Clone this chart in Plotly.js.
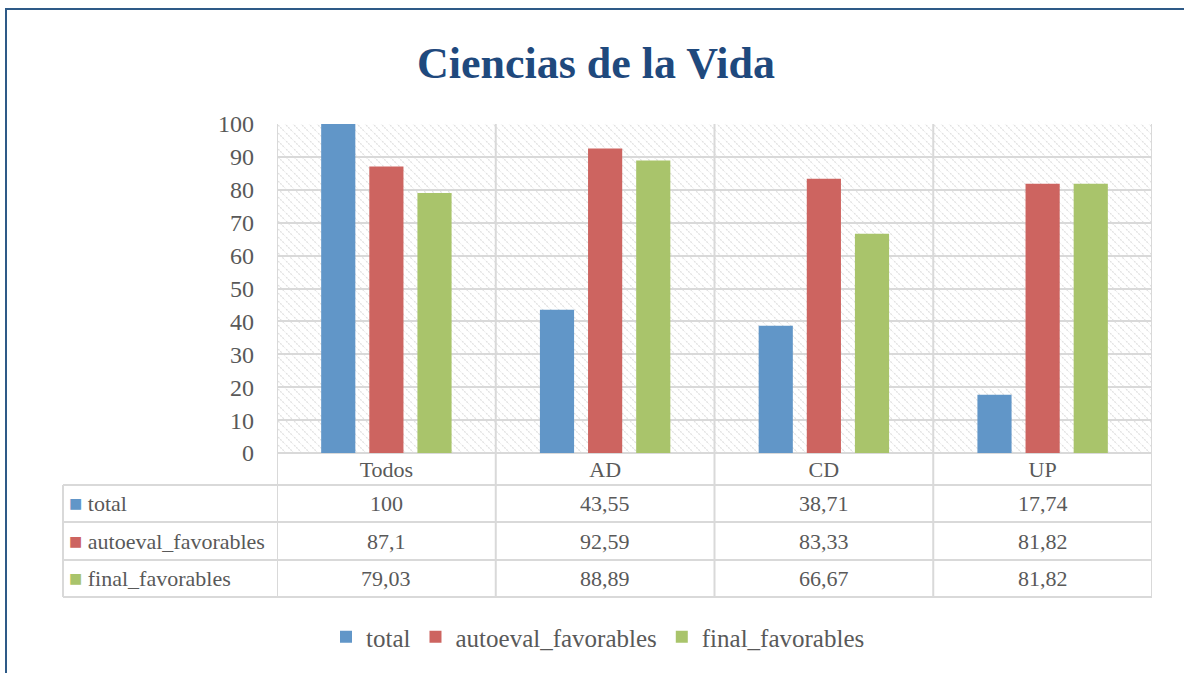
<!DOCTYPE html>
<html>
<head>
<meta charset="utf-8">
<script src="https://cdn.plot.ly/plotly-3.0.1.min.js"></script>
<style>
  body { margin: 0; background: #fff; }
  #plot { width: 1184px; height: 673px; }
</style>
</head>
<body>
<div id="plot"></div>
<script>
// chart data
let categories = ['Todos', 'AD', 'CD', 'UP'];
let seriesNames = ['total', 'autoeval_favorables', 'final_favorables'];
let total = [100, 43.55, 38.71, 17.74];
let autoeval = [87.1, 92.59, 83.33, 81.82];
let finalFav = [79.03, 88.89, 66.67, 81.82];
let yTicks = [0, 10, 20, 30, 40, 50, 60, 70, 80, 90, 100];

let colors = ['#6196c8', '#cd6460', '#a9c46b'];
let values = [total, autoeval, finalFav];
let textColor = '#595959';
let lineColor = '#d9d9d9';
let font = 'Liberation Serif, Times New Roman, serif';

// plot area in pixels
let L = 277, T = 124, W = 875, H = 329;
let px = p => (p - L) / W;
let py = p => (T + H - p) / H;

let data = seriesNames.map((name, i) => ({
  x: categories,
  y: values[i],
  name: name,
  type: 'bar',
  marker: {color: colors[i]},
  hoverinfo: 'x+y+name'
}));

// hatch pattern behind the bars
let svg = '<svg xmlns="http://www.w3.org/2000/svg" width="' + W + '" height="' + H + '">' +
  '<defs><pattern id="h" width="8" height="8" patternUnits="userSpaceOnUse">' +
  '<path d="M-1,-1 L9,9 M-2,6 L2,10 M6,-2 L10,2" stroke="#e0e0e0" stroke-width="1.2" stroke-dasharray="2,1"/>' +
  '</pattern></defs><rect width="100%" height="100%" fill="url(#h)"/></svg>';

let shapes = [];
// outer chart border
shapes.push({type: 'rect', xref: 'paper', yref: 'paper',
  x0: px(6), x1: px(1200), y0: py(690), y1: py(9),
  line: {color: '#2e5a87', width: 2}});
// category dividers (plot + table)
for (let i = 0; i <= categories.length; i++) {
  shapes.push({type: 'line', xref: 'x', yref: 'paper', x0: i - 0.5, x1: i - 0.5,
    y0: py(597), y1: 1, line: {color: lineColor, width: 2}});
}
// table rows
let rowLines = [485, 522, 560, 597];
rowLines.forEach(r => {
  shapes.push({type: 'line', xref: 'paper', yref: 'paper', x0: px(63), x1: 1,
    y0: py(r), y1: py(r), line: {color: lineColor, width: 2}});
});
shapes.push({type: 'line', xref: 'paper', yref: 'paper', x0: px(63), x1: px(63),
  y0: py(485), y1: py(597), line: {color: lineColor, width: 2}});

let annotations = [];
let rowCenters = [503.5, 541, 578.5];
seriesNames.forEach((name, s) => {
  annotations.push({xref: 'paper', yref: 'paper', x: px(67), y: py(rowCenters[s]),
    xanchor: 'left', yanchor: 'middle', showarrow: false,
    text: '<span style="color:' + colors[s] + '">■</span> ' + name,
    font: {family: font, size: 22, color: textColor}});
  categories.forEach((c, j) => {
    annotations.push({xref: 'x', yref: 'paper', x: c, y: py(rowCenters[s]),
      xanchor: 'center', yanchor: 'middle', showarrow: false,
      text: String(values[s][j]).replace('.', ','),
      font: {family: font, size: 22, color: textColor}});
  });
});

let layout = {
  width: 1184, height: 673,
  margin: {l: L, r: 1184 - L - W, t: T, b: 673 - T - H},
  paper_bgcolor: '#ffffff',
  plot_bgcolor: 'rgba(0,0,0,0)',
  title: {text: 'Ciencias de la Vida', x: px(596), xref: 'paper', xanchor: 'center',
    y: 1 - 63 / 673, yanchor: 'middle',
    font: {family: font, size: 44, color: '#1f497d', weight: 'bold'}},
  barmode: 'group',
  bargap: 0.34,
  bargroupgap: 0.29,
  xaxis: {
    type: 'category', range: [-0.5, categories.length - 0.5],
    showgrid: false, zeroline: false, showline: false, ticks: '',
    ticklabelstandoff: 1,
    tickfont: {family: font, size: 22, color: textColor}
  },
  yaxis: {
    range: [0, 100], tickvals: yTicks, ticks: '',
    showgrid: true, gridcolor: lineColor, gridwidth: 2,
    zeroline: true, zerolinecolor: lineColor, zerolinewidth: 2,
    showline: false, ticklabelstandoff: 22,
    tickfont: {family: font, size: 24, color: textColor}
  },
  showlegend: true,
  legend: {orientation: 'h', x: px(598), xanchor: 'center', y: py(637), yanchor: 'middle',
    font: {family: font, size: 25, color: textColor}, traceorder: 'normal'},
  images: [{source: 'data:image/svg+xml;charset=utf-8,' + encodeURIComponent(svg),
    xref: 'paper', yref: 'paper', x: 0, y: 1, sizex: 1, sizey: 1,
    sizing: 'stretch', layer: 'below'}],
  shapes: shapes,
  annotations: annotations
};

Plotly.newPlot('plot', data, layout, {displayModeBar: false});
</script>
</body>
</html>
